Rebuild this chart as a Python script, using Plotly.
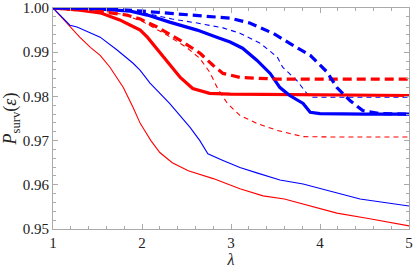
import plotly.graph_objects as go

# Red thin solid
r_thin_x = [1.0, 1.16, 1.30, 1.42, 1.53, 1.64, 1.79, 1.90, 1.98, 2.03, 2.10, 2.20, 2.34, 2.52, 2.80, 3.10, 3.36, 3.60, 3.81, 4.19, 4.56, 5.0]
r_thin_y = [1.0, 0.9966, 0.9934, 0.9911, 0.9893, 0.9866, 0.9820, 0.9775, 0.9739, 0.9723, 0.9700, 0.9673, 0.9650, 0.9632, 0.9614, 0.9591, 0.9575, 0.9568, 0.9557, 0.9536, 0.9523, 0.9507]

# Blue thin solid
b_thin_x = [1.0, 1.19, 1.27, 1.53, 1.72, 1.90, 1.98, 2.09, 2.31, 2.54, 2.65, 2.74, 2.91, 3.10, 3.29, 3.55, 3.81, 4.19, 4.45, 5.0]
b_thin_y = [1.0, 0.9961, 0.9957, 0.9934, 0.9905, 0.9875, 0.9859, 0.9830, 0.9784, 0.9730, 0.9700, 0.9670, 0.9655, 0.9639, 0.9627, 0.9611, 0.9602, 0.9582, 0.9568, 0.9552]

# Red thick solid
r_thick_x = [1.0, 1.3, 1.53, 1.75, 1.87, 1.98, 2.06, 2.24, 2.43, 2.57, 2.76, 2.99, 3.5, 4.0, 4.5, 5.0]
r_thick_y = [1.0, 0.9995, 0.9989, 0.9973, 0.9961, 0.9950, 0.9934, 0.9889, 0.9843, 0.9818, 0.9807, 0.9805, 0.9804, 0.9803, 0.9802, 0.9802]

# Red thick dashed
r_thickd_x = [1.0, 1.5, 1.83, 1.98, 2.17, 2.43, 2.65, 2.80, 2.91, 3.10, 3.52, 4.0, 5.0]
r_thickd_y = [1.0, 0.9993, 0.9984, 0.9975, 0.9957, 0.9927, 0.9898, 0.9870, 0.9852, 0.9843, 0.9839, 0.9839, 0.9839]

# Red thin dashed
r_thind_x = [1.0, 1.5, 1.8, 2.0, 2.27, 2.5, 2.65, 2.76, 2.85, 2.96, 3.10, 3.29, 3.52, 3.81, 4.2, 5.0]
r_thind_y = [1.0, 0.9995, 0.9985, 0.9970, 0.9940, 0.9911, 0.9886, 0.9855, 0.9818, 0.9784, 0.9757, 0.9739, 0.9723, 0.9709, 0.9708, 0.9708]

# Blue thick solid
b_thick_x = [1.0, 1.5, 1.87, 2.06, 2.31, 2.62, 2.84, 2.99, 3.13, 3.29, 3.44, 3.55, 3.66, 3.81, 3.89, 4.0, 4.5, 5.0]
b_thick_y = [1.0, 0.9998, 0.9993, 0.9984, 0.9968, 0.9950, 0.9934, 0.9923, 0.9909, 0.9882, 0.9852, 0.9820, 0.9802, 0.9784, 0.9764, 0.9761, 0.9760, 0.9760]

# Blue thick dashed
b_thickd_x = [1.0, 1.5, 2.0, 2.24, 2.62, 2.99, 3.21, 3.47, 3.66, 3.89, 4.08, 4.19, 4.34, 4.48, 4.67, 5.0]
b_thickd_y = [1.0, 0.99995, 0.9993, 0.9989, 0.9984, 0.9977, 0.9966, 0.9943, 0.9920, 0.9893, 0.9855, 0.9820, 0.9790, 0.9768, 0.9761, 0.9760]

# Blue thin dashed
b_thind_x = [1.0, 1.5, 2.0, 2.34, 2.62, 2.91, 3.10, 3.33, 3.52, 3.58, 3.74, 3.85, 3.92, 4.2, 5.0]
b_thind_y = [1.0, 0.9998, 0.9990, 0.9975, 0.9966, 0.9955, 0.9943, 0.9920, 0.9889, 0.9866, 0.9836, 0.9807, 0.9798, 0.9798, 0.9798]

x_ticks = [1, 2, 3, 4, 5]
x_labels = ["1", "2", "3", "4", "5"]
y_ticks = [0.95, 0.96, 0.97, 0.98, 0.99, 1.0]
y_labels = ["0.95", "0.96", "0.97", "0.98", "0.99", "1.00"]

RED = "#ff0000"
BLUE = "#0000ff"

series = [
    (r_thin_x, r_thin_y, RED, 1.1, "solid"),
    (b_thin_x, b_thin_y, BLUE, 1.1, "solid"),
    (r_thind_x, r_thind_y, RED, 1.1, "5px,4px"),
    (b_thind_x, b_thind_y, BLUE, 1.1, "5px,4px"),
    (r_thick_x, r_thick_y, RED, 3.2, "solid"),
    (b_thick_x, b_thick_y, BLUE, 3.2, "solid"),
    (r_thickd_x, r_thickd_y, RED, 3.2, "9px,5px"),
    (b_thickd_x, b_thickd_y, BLUE, 3.2, "9px,5px"),
]

fig = go.Figure()
for xs, ys, col, w, dash in series:
    fig.add_trace(go.Scatter(x=xs, y=ys, mode="lines",
                             line=dict(color=col, width=w, dash=dash),
                             showlegend=False, hoverinfo="skip"))

font_family = "Liberation Serif, Times New Roman, Times, serif"
axis_common = dict(
    showline=True, linecolor="#aaaaaa", linewidth=1, mirror="allticks",
    ticks="inside", tickcolor="#aaaaaa", ticklen=5, tickwidth=1,
    showgrid=False, zeroline=False, automargin=False,
    ticklabeloverflow="allow",
    tickfont=dict(family=font_family, size=15, color="#222222"),
)

fig.update_xaxes(range=[1, 5], tickvals=x_ticks, ticktext=x_labels,
                 minor=dict(ticks="inside", ticklen=3, tickcolor="#aaaaaa", dtick=0.2, tick0=1),
                 title=dict(text="<i>λ</i>", font=dict(family=font_family, size=16, color="#222222"), standoff=2),
                 **axis_common)
fig.update_yaxes(range=[0.95, 1.0], tickvals=y_ticks, ticktext=y_labels,
                 minor=dict(ticks="inside", ticklen=3, tickcolor="#aaaaaa", dtick=0.002, tick0=0.95),
                 title=dict(text="<i>P</i><sub>surv</sub>(<i>ε</i>)", font=dict(family=font_family, size=18, color="#222222"), standoff=4),
                 **axis_common)

fig.update_layout(width=415, height=273, margin=dict(l=53, r=6, t=8, b=44),
                  plot_bgcolor="white", paper_bgcolor="white",
                  font=dict(family=font_family))

fig.write_html("out.html", config={"displayModeBar": False, "staticPlot": True},
               post_script="document.body.style.margin='0px';document.body.style.overflow='hidden';")
